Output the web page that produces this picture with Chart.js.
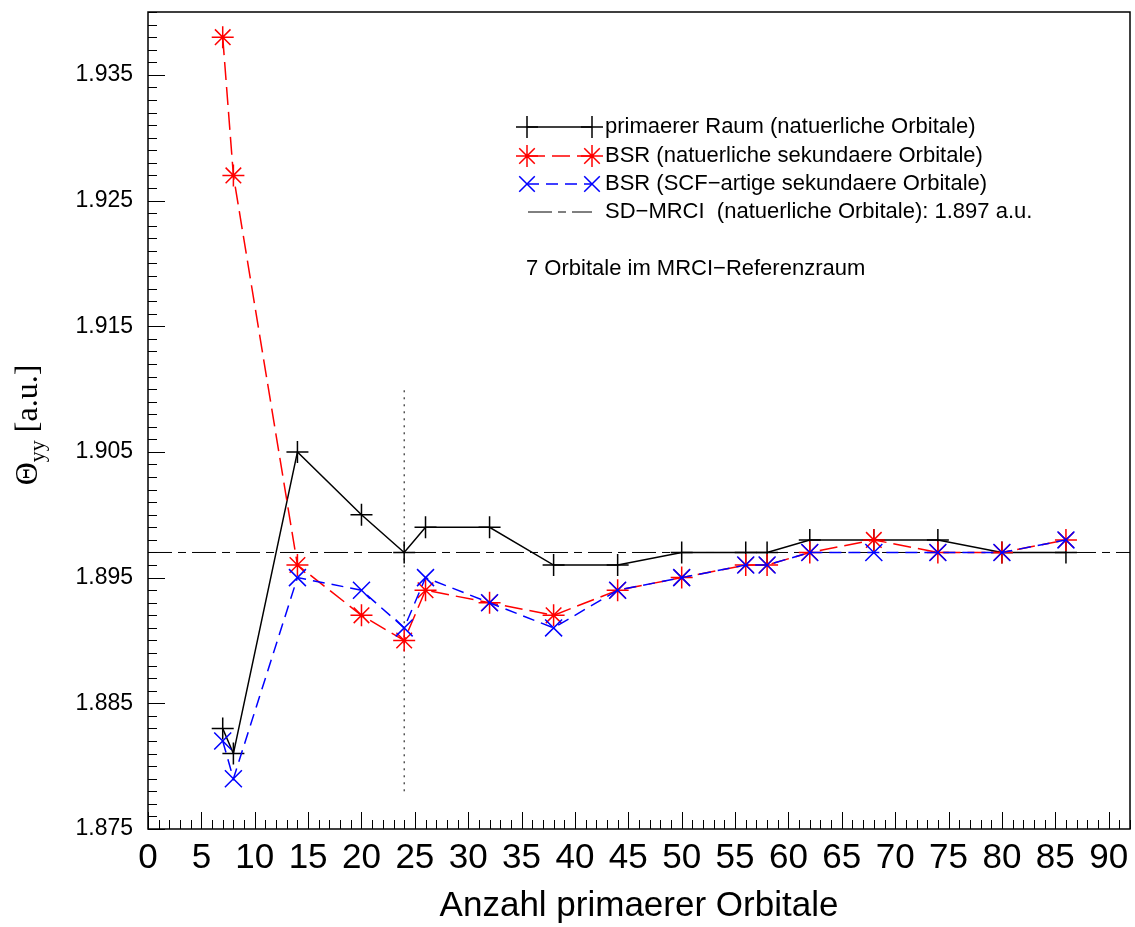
<!DOCTYPE html>
<html>
<head>
<meta charset="utf-8">
<script src="https://cdn.jsdelivr.net/npm/chart.js@4.4.1/dist/chart.umd.min.js"></script>
<style>
  html, body { margin: 0; padding: 0; background: #fff; }
</style>
</head>
<body>
<canvas id="chart" width="1135" height="927"></canvas>
<script>
// Anzahl primaerer Orbitale
const orbitals = [7, 8, 14, 20, 24, 26, 32, 38, 44, 50, 56, 58, 62, 68, 74, 80, 86];
// Theta_yy [a.u.]
const primaryNat = [1.883, 1.881, 1.905, 1.900, 1.897, 1.899, 1.899, 1.896, 1.896, 1.897, 1.897, 1.897, 1.898, 1.898, 1.898, 1.897, 1.897];
const bsrNat = [1.938, 1.927, 1.896, 1.892, 1.890, 1.894, 1.893, 1.892, 1.894, 1.895, 1.896, 1.896, 1.897, 1.898, 1.897, 1.897, 1.898];
const bsrScf = [1.882, 1.879, 1.895, 1.894, 1.891, 1.895, 1.893, 1.891, 1.894, 1.895, 1.896, 1.896, 1.897, 1.897, 1.897, 1.897, 1.898];
const mrciValue = 1.897;
const refSpaceX = 24;
const refSpaceY = [1.878, 1.910];
const xRange = [0, 92];
const yRange = [1.875, 1.940];

const legendLabels = [
    'primaerer Raum (natuerliche Orbitale)',
    'BSR (natuerliche sekundaere Orbitale)',
    'BSR (SCF\u2212artige sekundaere Orbitale)',
    'SD\u2212MRCI  (natuerliche Orbitale): 1.897 a.u.'
];
const noteText = '7 Orbitale im MRCI\u2212Referenzraum';

const pts = (ys) => orbitals.map((x, i) => ({ x: x, y: ys[i] }));

function drawMarker(ctx, style, x, y, r) {
    ctx.beginPath();
    if (style === 'cross' || style === 'star') {
        ctx.moveTo(x - r, y); ctx.lineTo(x + r, y);
        ctx.moveTo(x, y - r); ctx.lineTo(x, y + r);
    }
    if (style === 'crossRot' || style === 'star') {
        const d = r * Math.SQRT1_2;
        ctx.moveTo(x - d, y - d); ctx.lineTo(x + d, y + d);
        ctx.moveTo(x - d, y + d); ctx.lineTo(x + d, y - d);
    }
    ctx.stroke();
}

// ticks inside the frame + frame + texts
const framePlugin = {
    id: 'framePlugin',
    afterDatasetsDraw(chart) {
        const { ctx, chartArea: a, scales: { x, y } } = chart;
        ctx.save();
        ctx.strokeStyle = '#000';
        ctx.lineWidth = 1;
        ctx.beginPath();
        x.ticks.forEach(t => {
            const px = Math.round(x.getPixelForValue(t.value)) + 0.5;
            const len = t.value % 5 === 0 ? 17 : 9;
            ctx.moveTo(px, a.bottom); ctx.lineTo(px, a.bottom - len);
        });
        y.ticks.forEach(t => {
            const py = Math.round(y.getPixelForValue(t.value)) + 0.5;
            const major = Math.round((t.value - yRange[0]) * 1000) % 10 === 0;
            const len = major ? 17 : 9;
            ctx.moveTo(a.left, py); ctx.lineTo(a.left + len, py);
        });
        ctx.stroke();
        ctx.lineWidth = 1.5;
        ctx.strokeRect(a.left, a.top, a.right - a.left, a.bottom - a.top);

        // legend
        const styles = [
            { color: '#000', marker: 'cross', dash: [] },
            { color: '#ff0000', marker: 'star', dash: [18, 7] },
            { color: '#0000ff', marker: 'crossRot', dash: [12, 7] },
            { color: '#000', marker: null, dash: [24, 6, 8, 6] }
        ];
        const rowY = [127, 156, 184, 212];
        ctx.font = '22px "Liberation Sans", Arial, sans-serif';
        ctx.textBaseline = 'middle';
        ctx.textAlign = 'left';
        styles.forEach((s, i) => {
            ctx.strokeStyle = s.color;
            ctx.lineWidth = s.marker ? 1.5 : 1;
            ctx.setLineDash(s.dash);
            ctx.beginPath();
            ctx.moveTo(s.marker ? 527 : 528, rowY[i]);
            ctx.lineTo(592, rowY[i]);
            ctx.stroke();
            ctx.setLineDash([]);
            if (s.marker) {
                drawMarker(ctx, s.marker, 527, rowY[i], 11);
                drawMarker(ctx, s.marker, 592, rowY[i], 11);
            }
            ctx.fillStyle = '#000';
            ctx.fillText(legendLabels[i], 605, rowY[i]);
        });
        ctx.fillText(noteText, 526, 269);

        // y axis title: Theta_yy [a.u.]
        ctx.translate(27, 425);
        ctx.rotate(-Math.PI / 2);
        const big = '32px "Liberation Serif", "Times New Roman", serif';
        const small = '22px "Liberation Serif", "Times New Roman", serif';
        ctx.font = big;
        const wTheta = ctx.measureText('\u0398').width;
        const wRest = ctx.measureText(' [a.u.]').width;
        ctx.font = small;
        const wSub = ctx.measureText('yy').width;
        let cx = -(wTheta + wSub + wRest) / 2;
        ctx.textBaseline = 'alphabetic';
        ctx.font = big;
        ctx.fillText('\u0398', cx, 10);
        cx += wTheta;
        ctx.font = small;
        ctx.fillText('yy', cx, 17);
        cx += wSub;
        ctx.font = big;
        ctx.fillText(' [a.u.]', cx, 10);
        ctx.restore();
    }
};

new Chart(document.getElementById('chart'), {
    type: 'line',
    data: {
        datasets: [
            {
                label: legendLabels[0],
                data: pts(primaryNat),
                borderColor: '#000',
                borderWidth: 1.5,
                pointStyle: 'cross',
                pointRadius: 11,
                pointBorderWidth: 1.5,
                pointBorderColor: '#000',
                order: 2
            },
            {
                label: legendLabels[1],
                data: pts(bsrNat),
                borderColor: '#ff0000',
                borderWidth: 1.5,
                borderDash: [18, 7],
                pointStyle: 'star',
                pointRadius: 11,
                pointBorderWidth: 1.5,
                pointBorderColor: '#ff0000',
                order: 1
            },
            {
                label: legendLabels[2],
                data: pts(bsrScf),
                borderColor: '#0000ff',
                borderWidth: 1.5,
                borderDash: [12, 7],
                pointStyle: 'crossRot',
                pointRadius: 12,
                pointBorderWidth: 1.5,
                pointBorderColor: '#0000ff',
                order: 0
            },
            {
                label: legendLabels[3],
                data: [{ x: xRange[0], y: mrciValue }, { x: xRange[1], y: mrciValue }],
                borderColor: '#000',
                borderWidth: 1,
                borderDash: [24, 6, 8, 6],
                pointRadius: 0,
                order: 3
            },
            {
                label: 'ref',
                data: [{ x: refSpaceX, y: refSpaceY[0] }, { x: refSpaceX, y: refSpaceY[1] }],
                borderColor: '#000',
                borderWidth: 1,
                borderDash: [2, 5],
                pointRadius: 0,
                order: 4
            }
        ]
    },
    options: {
        responsive: false,
        animation: false,
        layout: { autoPadding: false, padding: { top: 12, right: 5, left: 0, bottom: 0 } },
        plugins: { legend: { display: false }, tooltip: { enabled: false } },
        scales: {
            x: {
                type: 'linear',
                min: xRange[0],
                max: xRange[1],
                grid: { display: false, drawTicks: false },
                border: { display: false },
                ticks: {
                    stepSize: 1,
                    autoSkip: false,
                    maxTicksLimit: 200,
                    maxRotation: 0,
                    padding: 8,
                    color: '#000',
                    font: { family: '"Liberation Sans", Arial, sans-serif', size: 35 },
                    callback: (v) => (v % 5 === 0 && v <= 90 ? String(v) : '')
                },
                title: {
                    display: true,
                    text: 'Anzahl primaerer Orbitale',
                    color: '#000',
                    font: { family: '"Liberation Sans", Arial, sans-serif', size: 35 },
                    padding: { top: 0, bottom: 0 }
                },
                afterFit: (scale) => {
                    scale.height = 98;
                    scale.paddingLeft = 0;
                    scale.paddingRight = 0;
                }
            },
            y: {
                type: 'linear',
                min: yRange[0],
                max: yRange[1],
                grid: { display: false, drawTicks: false },
                border: { display: false },
                ticks: {
                    stepSize: 0.001,
                    autoSkip: false,
                    maxTicksLimit: 200,
                    padding: 15,
                    color: '#000',
                    font: { family: '"Liberation Sans", Arial, sans-serif', size: 23 },
                    callback: (v) => {
                        const k = Math.round((v - yRange[0]) * 1000);
                        return k % 10 === 0 ? v.toFixed(3) : '';
                    }
                },
                afterFit: (scale) => {
                    scale.width = 148;
                    scale.paddingTop = 0;
                    scale.paddingBottom = 0;
                }
            }
        }
    },
    plugins: [framePlugin]
});
</script>
</body>
</html>
